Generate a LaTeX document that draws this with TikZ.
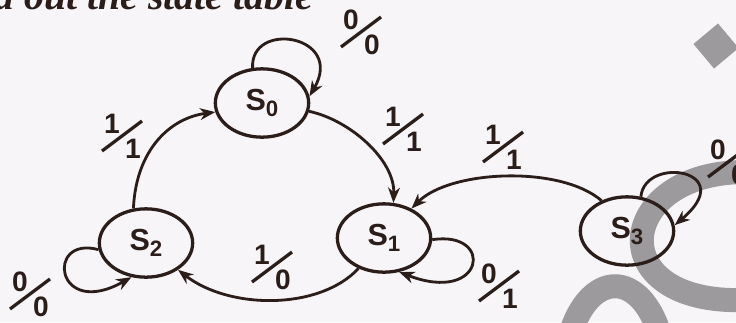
\documentclass[tikz,border=0pt]{standalone}
\usepackage{fontspec}
\setmainfont{Liberation Sans}
\newfontfamily\scanserif{Liberation Serif}
\usepackage{xcolor}
\usetikzlibrary{arrows.meta,shapes.geometric}
\definecolor{paper}{HTML}{F7F5F8}
\definecolor{ink}{HTML}{2B1E1A}
\definecolor{wmgray}{HTML}{9C9A9C}

\begin{document}
\begin{tikzpicture}[x=0.03cm,y=-0.03cm,>={Stealth[length=13pt,width=10pt,inset=4pt]}]
\tikzstyle{state}=[draw=ink,line width=2.8pt,ellipse,minimum width=2.8cm,minimum height=2.05cm,inner sep=0pt,text=ink,font=\bfseries\fontsize{26}{26}\selectfont]
\tikzstyle{trans}=[draw=ink,line width=2.4pt,->]
\tikzstyle{digit}=[inner sep=0pt,text=ink,font=\bfseries\fontsize{24}{24}\selectfont]
\tikzstyle{slash}=[draw=ink,line width=2.8pt]
\tikzstyle{wmark}=[draw=wmgray,line width=0.72cm]
\newcommand{\stname}[1]{S\raisebox{-5pt}{\fontsize{19}{19}\selectfont #1}}
\newcommand{\ioLabel}[5]{%
\node[digit] (#1in) at (#2-10,#3-13) {#4};
\node[digit] (#1out) at (#2+11,#3+12) {#5};
\draw[slash] (#2-20,#3+14) -- (#2+20,#3-16);
}
\fill[paper] (0,0) rectangle (736,322);
\useasboundingbox (0,0) rectangle (736,322);
\clip (0,0) rectangle (736,322);
% watermark
\fill[wmgray,rotate around={40:(716,46)}] (700,30) rectangle (732,62);
\draw[wmark] (745,172) .. controls (615,172) and (600,305) .. (745,300);
\draw[wmark] (570,335) .. controls (590,270) and (640,270) .. (660,335);
% page text cut off at the top
\node[anchor=base west,inner sep=0pt,text=ink,font=\scanserif\bfseries\itshape\fontsize{34}{34}\selectfont] (heading) at (-6,9) {d out the state table};
% states
\node[state] (s0) at (262,103) {\stname{0}};
\node[state] (s1) at (384,238) {\stname{1}};
\node[state] (s2) at (146,243) {\stname{2}};
\node[state] (s3) at (627,231) {\stname{3}};
% transitions
\draw[trans] (s2.110) .. controls (136,150) and (170,118) .. (s0.191);
\draw[trans] (s0.-10) .. controls (350,120) and (395,160) .. (s1.75);
\draw[trans] (s3.130) .. controls (560,165) and (450,170) .. (s1.47);
\draw[trans] (s1.230) .. controls (320,310) and (230,310) .. (s2.-40);
\draw[trans] (s0.105) .. controls (250,20) and (345,35) .. (s0.8);
\draw[trans] (s1.-2) .. controls (495,230) and (485,305) .. (s1.-66);
\draw[trans] (s2.188) .. controls (45,235) and (55,320) .. (s2.247);
\draw[trans] (s3.68) .. controls (645,155) and (740,170) .. (s3.7);
% input / output
\ioLabel{a}{122}{137}{1}{1}
\ioLabel{b}{403}{130}{1}{1}
\ioLabel{c}{503}{148}{1}{1}
\ioLabel{d}{272}{268}{1}{0}
\ioLabel{e}{361}{33}{0}{0}
\ioLabel{f}{499}{287}{0}{1}
\ioLabel{g}{30}{295}{0}{0}
\ioLabel{h}{728}{163}{0}{0}
\end{tikzpicture}
\end{document}
